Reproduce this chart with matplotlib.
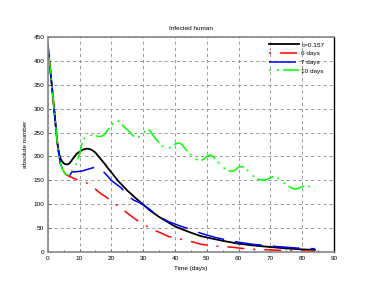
import matplotlib
matplotlib.use("Agg")
import matplotlib.pyplot as plt
from matplotlib.lines import Line2D
import numpy as np

plt.rcParams['font.family'] = ['Liberation Sans', 'DejaVu Sans']
plt.rcParams['lines.scale_dashes'] = False

# ---- data ----
t_black = [0, 1, 2, 3, 3.5, 4, 4.5, 5, 5.5, 6, 6.5, 7, 8, 9, 10, 11, 12, 13, 14, 15, 16, 17, 18, 19,
           20, 22, 25, 28, 30, 32, 35, 38, 40, 45, 48, 50, 55, 60, 65, 70, 75, 80, 84]
y_black = [436, 368, 300, 230, 208, 196, 190, 186, 184, 183.5, 184, 187, 196, 205, 210, 214, 216, 216,
           213, 208, 200, 192, 184, 175, 167, 150, 129, 111, 100, 88, 74, 62, 54, 41, 34, 31, 24, 18,
           14, 11, 8, 6, 5]

t_red = [0, 1, 2, 3, 3.5, 4, 4.5, 5, 5.5, 6, 7, 8, 9, 10, 11, 12, 13, 14, 15, 16, 17, 18, 19, 20, 21,
         22, 23, 24, 25, 26, 27, 28, 29, 30, 31, 32, 33, 35, 37, 38, 40, 42, 44, 46, 48, 50, 52, 54,
         56, 58, 60, 62, 64, 66, 68, 70, 73, 76, 80, 84]
y_red = [436, 368, 300, 230, 205, 184, 176, 169, 164, 161, 158, 155, 152, 150, 149, 146, 141, 137,
         132, 126, 121, 117, 112, 107, 102, 97, 92, 87, 82, 77, 72, 67, 63, 59, 55, 51, 47, 42, 36, 33,
         30, 27, 24, 21, 17, 15, 13.5, 12.5, 11.5, 10.5, 9, 7.5, 6.5, 6, 5.5, 5, 4, 3, 3, 2]

t_blue = [0, 1, 2, 3, 3.5, 4, 4.5, 5, 5.5, 6, 7, 7.5, 8, 9, 10, 11, 12, 13, 14, 15, 16, 17, 18, 19,
          20, 21, 22, 23, 24, 25, 26, 27, 28, 29, 30, 32, 34, 36, 38, 40, 42, 44, 46, 48, 50, 53, 56,
          60, 64, 68, 72, 76, 80, 84]
y_blue = [436, 368, 300, 230, 205, 184, 176, 169, 164, 161, 161, 167, 168, 168, 169, 170, 172, 174,
          176, 178, 176, 171, 165, 158, 150, 145, 140, 135, 128, 121, 114, 109, 106, 103, 99, 90, 79,
          71, 64, 59, 54, 50, 45, 40, 36, 30.5, 26, 21, 17, 14.6, 12, 10, 8, 7.5]

t_green = [0, 1, 2, 3, 3.5, 4, 4.5, 5, 5.7, 6.5, 7, 8, 9, 9.5, 10, 10.7, 11.5, 12, 13, 14, 15, 16, 17,
           18, 19, 20, 21, 21.5, 22, 23, 24, 25, 26, 27, 28, 29, 30, 31, 31.5, 32, 33, 34, 35, 36, 37,
           38, 39, 40, 41, 41.5, 42, 43, 44, 45, 46, 47, 48, 49, 50, 51, 52, 53, 54, 55, 56, 57, 58,
           59, 60, 61, 62, 63, 64, 65, 66, 67, 68, 69, 70, 71, 72, 73, 74, 75, 76, 77, 78, 79, 80, 81,
           82, 83, 84]
y_green = [436, 368, 300, 230, 205, 184, 176, 169, 162, 162, 165, 175, 185, 195, 205, 225, 238, 241,
           244, 244, 243, 242, 242, 247, 256, 265, 273, 276, 275, 268, 262, 256, 250, 242, 240, 241,
           248, 256, 257, 254, 245, 236, 229, 222, 218, 217, 220, 226, 228, 228, 226, 218, 210, 204,
           196, 193, 191, 194, 200, 203, 200, 192, 185, 179, 172, 170, 169, 172, 178, 179, 176, 170,
           163, 157, 153, 151, 151, 152, 156, 158, 157, 152, 146, 141, 137, 133, 132, 134, 137, 139,
           138, 133, 128]

labels = ['c=0.157', '6 days', '7 days', '10 days']
title = 'Infected human'
xlabel = 'Time (days)'
ylabel = 'absolute number'

# ---- figure ----
px = 0.72  # points per pixel at dpi 100
fs = 4.6
red_pat = (2 * px, 9 * px, 17 * px, 9 * px)
blue_pat = (27 * px, 11 * px)
green_pat = (2 * px, 6 * px, 2 * px, 4 * px, 17 * px, 4 * px)

fig = plt.figure(figsize=(3.82, 2.88), dpi=100)
ax = fig.add_axes([0.1249, 0.124, 0.7494, 0.7486])

ax.plot(t_black, y_black, color='black', lw=1.3)
ax.plot(t_red, y_red, color='#ff0000', lw=1.1, linestyle=(30 * px, red_pat))
ax.plot(t_blue, y_blue, color='#0000ff', lw=1.1, linestyle=(15 * px, blue_pat))
ax.plot(t_green, y_green, color='#00ff00', lw=1.1, linestyle=(0, green_pat))

ax.set_xlim(0, 90)
ax.set_ylim(0, 450)
ax.set_xticks(np.arange(0, 91, 10))
ax.set_yticks(np.arange(0, 451, 50))
ax.set_xticks(np.arange(5, 90, 10), minor=True)
ax.tick_params(axis='both', which='both', direction='in', labelsize=fs, length=2,
               width=0.6, color='#555555', pad=2.5)
ax.tick_params(axis='both', which='minor', length=1.5)

ax.grid(True, which='major', color='#999999', lw=0.7, dashes=(2.2, 2.2))
ax.set_axisbelow(True)

for s in ['left', 'bottom', 'top']:
    ax.spines[s].set_color('#888888')
    ax.spines[s].set_linewidth(1.2)
ax.spines['right'].set_color('black')
ax.spines['right'].set_linewidth(1.0)

ax.set_title(title, fontsize=fs, pad=4.5)
ax.set_xlabel(xlabel, fontsize=fs, labelpad=4)
ax.set_ylabel(ylabel, fontsize=fs, labelpad=4)

handles = [
    Line2D([], [], color='black', lw=1.3),
    Line2D([], [], color='#ff0000', lw=1.1, linestyle=(0, red_pat)),
    Line2D([], [], color='#0000ff', lw=1.1, linestyle=(0, blue_pat)),
    Line2D([], [], color='#00ff00', lw=1.1, linestyle=(0, green_pat)),
]
leg = ax.legend(handles, labels, loc='upper right', bbox_to_anchor=(0.983, 0.997),
                fontsize=fs, handlelength=4.6, handletextpad=0.4, borderpad=0.75,
                labelspacing=0.5, fancybox=False, framealpha=0, edgecolor='#777777',
                borderaxespad=0)
leg.get_frame().set_linewidth(0.8)

fig.savefig('out.png', dpi=100)
